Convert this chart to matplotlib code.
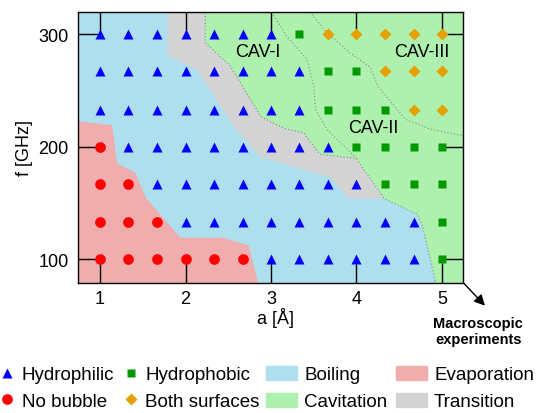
import numpy as np
import matplotlib
matplotlib.use("Agg")
import matplotlib.pyplot as plt
from matplotlib.lines import Line2D
from matplotlib.patches import Patch

plt.rcParams['font.family'] = ['Liberation Sans', 'DejaVu Sans']
plt.rcParams['font.size'] = 13

# grid of simulated points
a_values = [1.0, 1.33, 1.67, 2.0, 2.33, 2.67, 3.0, 3.33, 3.67, 4.0, 4.33, 4.67, 5.0]
f_values = [300, 267, 233, 200, 167, 133, 100]
# T = hydrophilic, N = no bubble, S = hydrophobic, D = both surfaces
regime_rows = [
    "TTTTTTTSDDDDD",
    "TTTTTTTTSSDDD",
    "TTTTTTTTSSSDD",
    "NTTTTTTTTSSSS",
    "NNTTTTTTTTSSS",
    "NNNTTTTTTTTTS",
    "NNNNNNTTTTTTS",
]

# region boundaries (a, f)
evap_a = [0.7, 1.14, 1.2, 1.41, 1.54, 1.94, 2.44, 2.74, 2.86, 0.7]
evap_f = [223, 219, 185, 177, 154, 119, 119, 112, 75, 75]

trans_left_a = [1.79, 1.79, 2.13, 2.56, 2.87, 3.69, 3.90, 4.33]
trans_left_f = [325, 281, 269, 218.5, 191, 172.6, 154, 153.5]

cav_edge_a = [2.23, 2.23, 2.52, 2.88, 3.01, 3.18, 3.38, 3.57, 4.00, 4.08, 4.33, 4.71, 4.77, 4.94]
cav_edge_f = [325, 292.6, 272, 227, 221.5, 215.6, 212.6, 193.3, 189.5, 180, 153.5, 140, 130, 75]

cav1_a = [2.99, 3.18, 3.42, 3.50, 3.52, 3.65, 3.89, 4.00]
cav1_f = [322, 298.5, 277.8, 254, 233.3, 215.6, 197.8, 189.5]
cav2_a = [3.43, 3.65, 3.92, 4.16, 4.25, 4.57, 4.86, 5.3]
cav2_f = [322, 301.5, 283.7, 270.7, 253.8, 224.4, 215.6, 209]

cav_labels = ["CAV-I", "CAV-II", "CAV-III"]
cav_label_a = [2.85, 4.2, 4.77]
cav_label_f = [284.5, 216.7, 284.5]

boil_color = '#ADDFEF'
evap_color = '#F0ADAD'
cav_color = '#AEF0AE'
trans_color = '#D3D3D3'

styles = {
    'T': dict(marker='^', color='#0000FF', ms=7.4),
    'N': dict(marker='o', color='#FF0000', ms=7.7),
    'S': dict(marker='s', color='#009900', ms=5.3),
    'D': dict(marker='D', color='#E6A100', ms=6.2),
}

fig = plt.figure(figsize=(5.36, 4.14), dpi=100)
ax = fig.add_axes([78.3 / 536, 1 - 283.7 / 414, 385 / 536, 271 / 414])
ax.set_facecolor(boil_color)

# regions
ax.fill(evap_a, evap_f, color=evap_color, lw=0, zorder=0.5)
n = cav_edge_a.index(4.33) + 1
trans_a = trans_left_a + cav_edge_a[:n][::-1]
trans_f = trans_left_f + cav_edge_f[:n][::-1]
ax.fill(trans_a, trans_f, color=trans_color, lw=0, zorder=0.5)
ax.fill(cav_edge_a + [5.3, 5.3], cav_edge_f + [75, 325], color=cav_color, lw=0, zorder=0.5)

dot = dict(color='#888888', lw=0.8, ls=(0, (1, 2)), zorder=0.8)
ax.plot(cav_edge_a, cav_edge_f, **dot)
ax.plot(cav1_a, cav1_f, **dot)
ax.plot(cav2_a, cav2_f, **dot)

for lab, xa, yf in zip(cav_labels, cav_label_a, cav_label_f):
    ax.text(xa, yf, lab, ha='center', va='center', fontsize=13)

# points
for code, st in styles.items():
    xs, ys = [], []
    for row, f in zip(regime_rows, f_values):
        for c, a in zip(row, a_values):
            if c == code:
                xs.append(a)
                ys.append(f)
    ax.plot(xs, ys, ls='none', marker=st['marker'], ms=st['ms'],
            mfc=st['color'], mec='none', zorder=3)

ax.set_xlim(0.745, 5.25)
ax.set_ylim(79, 320)
ax.set_xticks([1, 2, 3, 4, 5])
ax.set_yticks([100, 200, 300])
ax.tick_params(direction='in', length=14.5, width=1, top=True, right=True)
ax.tick_params(axis='x', pad=5)
ax.tick_params(axis='y', pad=7)
for s in ax.spines.values():
    s.set_linewidth(1.0)

ax.set_xlabel("a [Å]")
ax.xaxis.set_label_coords(0.512, -0.088)
ax.set_ylabel("f [GHz]")

# macroscopic arrow
ax.annotate('', xy=(485 / 536, 1 - 306.7 / 414), xycoords='figure fraction',
            xytext=(1, 0), textcoords='axes fraction', annotation_clip=False,
            arrowprops=dict(arrowstyle='-|>', color='black', lw=1.0,
                            mutation_scale=16, shrinkA=0, shrinkB=0))
fig.text(478.3 / 536, 1 - 331.7 / 414, "Macroscopic\nexperiments", ha='center',
         va='center', fontsize=10.5, fontweight='bold', linespacing=1.15)

# legends
mk = [Line2D([], [], ls='none', marker=styles[c]['marker'], ms=styles[c]['ms'],
             mfc=styles[c]['color'], mec='none') for c in 'TNSD']
mk_labels = ["Hydrophilic", "No bubble", "Hydrophobic", "Both surfaces"]
fig.legend(mk, mk_labels, ncol=2, loc='upper left', bbox_to_anchor=(0, 1 - 367 / 414),
           frameon=False, borderpad=0, borderaxespad=0, handlelength=0.75,
           handletextpad=0.41, columnspacing=0.5, labelspacing=0.5, fontsize=13.5)

pt = [Patch(color=boil_color), Patch(color=cav_color),
      Patch(color=evap_color), Patch(color=trans_color)]
pt_labels = ["Boiling", "Cavitation", "Evaporation", "Transition"]
fig.legend(pt, pt_labels, ncol=2, loc='upper left', bbox_to_anchor=(266 / 536, 1 - 367 / 414),
           frameon=False, borderpad=0, borderaxespad=0, handlelength=1.65, handleheight=0.75,
           handletextpad=0.39, columnspacing=0.44, labelspacing=0.5, fontsize=13.5)

fig.savefig("out.png", dpi=100)
